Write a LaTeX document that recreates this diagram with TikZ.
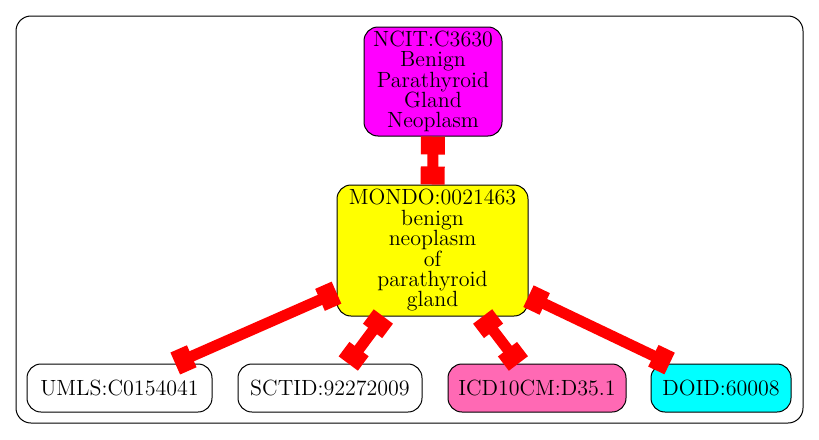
\documentclass[tikz,border=0pt]{standalone}
\usetikzlibrary{arrows.meta,positioning}
\usepackage{xcolor}
\definecolor{ncitFill}{RGB}{255,0,255}
\definecolor{mondoFill}{RGB}{255,255,0}
\definecolor{icdFill}{RGB}{255,105,180}
\definecolor{doidFill}{RGB}{0,255,255}
\tikzset{
    every node/.append style={align=center},
    term/.style={rectangle,draw=black,line width=0.5pt,rounded corners=7pt,inner sep=0pt,
        font=\fontsize{11}{10.2}\selectfont},
    cluster/.style={rectangle,draw=black,line width=0.5pt,rounded corners=7.5pt,inner sep=0pt},
    boxtip/.tip={Square[length=9pt,width=12pt]},
    link/.style={draw=red,line width=5.5pt,boxtip-boxtip}
}
\begin{document}
\begin{tikzpicture}[x=0.5pt,y=-0.5pt]
    \useasboundingbox (0,0) rectangle (819,439);
    \node[cluster,minimum width=393.5pt,minimum height=203.5pt] (group) at (409.5,219.5) {};

    \node[term,fill=ncitFill,minimum width=69pt,minimum height=54.5pt]
        (ncit) at (433,81.5) {NCIT:C3630\\Benign\\Parathyroid\\Gland\\Neoplasm};
    \node[term,fill=mondoFill,minimum width=95.5pt,minimum height=65.5pt]
        (mondo) at (432.5,250.5) {MONDO:0021463\\benign\\neoplasm\\of\\parathyroid\\gland};

    \node[term,fill=white,minimum width=92.5pt,minimum height=24pt] (umls) at (119.5,388) {UMLS:C0154041};
    \node[term,fill=white,minimum width=92pt,minimum height=24pt] (sctid) at (330,388) {SCTID:92272009};
    \node[term,fill=icdFill,minimum width=89pt,minimum height=24pt] (icd) at (537,388) {ICD10CM:D35.1};
    \node[term,fill=doidFill,minimum width=70pt,minimum height=24pt] (doid) at (721,388) {DOID:60008};

    \draw[link] (ncit) -- (mondo);
    \draw[link] (mondo) -- (umls);
    \draw[link] (mondo) -- (sctid);
    \draw[link] (mondo) -- (icd);
    \draw[link] (mondo) -- (doid);
\end{tikzpicture}
\end{document}
